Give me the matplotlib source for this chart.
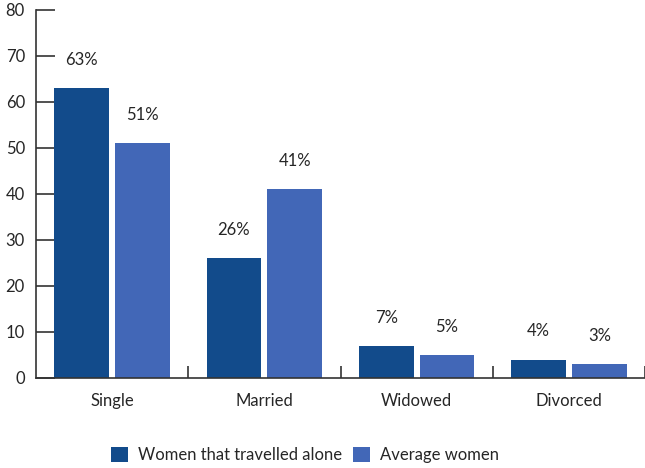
import matplotlib.pyplot as plt
import numpy as np

# ── Data ────────────────────────────────────────────────
categories = ['Single', 'Married', 'Widowed', 'Divorced']
alone_pct = [63, 26, 7, 4]
average_pct = [51, 41, 5, 3]
series_names = ['Women that travelled alone', 'Average women']

# ── Colors ──────────────────────────────────────────────
COLOR_ALONE = '#124b8b'
COLOR_AVG = '#4267b7'
COLOR_AXIS = '#333333'
COLOR_TEXT = '#262626'

plt.rcParams['font.family'] = ['Lato', 'DejaVu Sans']

fig = plt.figure(figsize=(6.45, 4.68), dpi=100)
ax = fig.add_axes([36 / 645, 90 / 468, 1 - 36 / 645, 368 / 468])

x = np.arange(len(categories))
width = 0.36
off = 0.2

bars_a = ax.bar(x - off, alone_pct, width, color=COLOR_ALONE, label=series_names[0], zorder=2)
bars_b = ax.bar(x + off, average_pct, width, color=COLOR_AVG, label=series_names[1], zorder=2)

# value labels above each bar
for bars, vals in ((bars_a, alone_pct), (bars_b, average_pct)):
    for b, v in zip(bars, vals):
        ax.text(b.get_x() + b.get_width() / 2, v + 4.4, f'{v}%',
                ha='center', va='bottom', fontsize=12, color=COLOR_TEXT)

ax.set_xlim(-0.5, 3.5)
ax.set_ylim(0, 80)

# y axis: inward ticks every 10
ax.set_yticks(range(0, 81, 10))
ax.tick_params(axis='y', direction='in', length=14, width=1.2, color=COLOR_AXIS,
               labelsize=12, labelcolor=COLOR_TEXT, pad=8)

# x axis: labels at group centres, tick marks at group boundaries
ax.set_xticks(x)
ax.set_xticklabels(categories)
ax.tick_params(axis='x', which='major', length=0, labelsize=12, labelcolor=COLOR_TEXT, pad=11)
ax.set_xticks(np.arange(0.5, 4.0, 1.0), minor=True)
ax.tick_params(axis='x', which='minor', direction='in', length=9, width=1.2, color=COLOR_AXIS)

for side in ('top', 'right'):
    ax.spines[side].set_visible(False)
for side in ('left', 'bottom'):
    ax.spines[side].set_color(COLOR_AXIS)
    ax.spines[side].set_linewidth(1.2)

fig.legend(handles=[bars_a, bars_b], labels=series_names, loc='center',
           bbox_to_anchor=(305 / 645, 1 - 455 / 468), ncol=2, frameon=False,
           fontsize=12, handlelength=1.0, handleheight=1.0, handletextpad=0.6,
           columnspacing=0.7, labelcolor=COLOR_TEXT)

fig.savefig('out.png', dpi=100)
